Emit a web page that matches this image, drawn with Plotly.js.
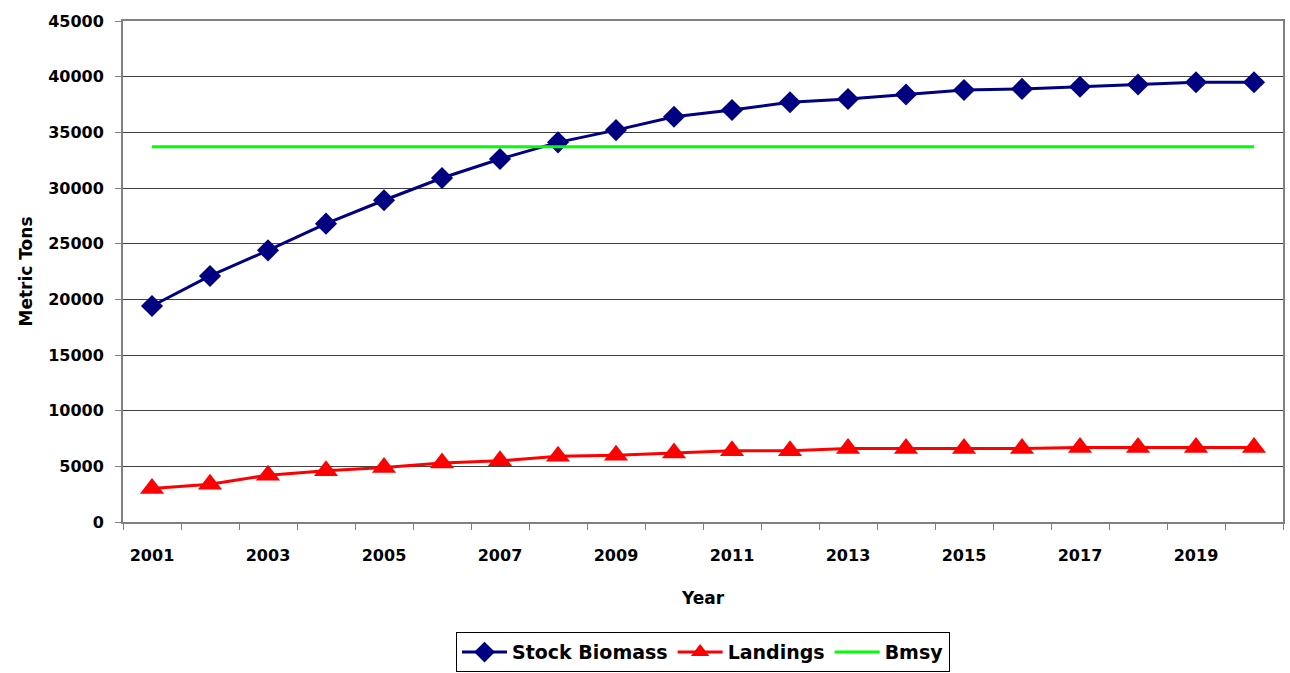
<!DOCTYPE html>
<html>
<head>
<meta charset="utf-8">
<script src="https://cdn.plot.ly/plotly-3.0.1.min.js"></script>
<style>html,body{margin:0;padding:0;background:#fff;}#chart{width:1290px;height:673px;}</style>
</head>
<body>
<div id="chart"></div>
<script>
const years = [2001,2002,2003,2004,2005,2006,2007,2008,2009,2010,2011,2012,2013,2014,2015,2016,2017,2018,2019,2020];
const stockBiomass = [19400,22100,24400,26800,28900,30900,32600,34100,35200,36400,37000,37700,38000,38400,38800,38900,39100,39300,39500,39500];
const landings = [3000,3400,4200,4600,4900,5300,5500,5900,6000,6200,6400,6400,6600,6600,6600,6600,6700,6700,6700,6700];
const bmsy = [33700,33700,33700,33700,33700,33700,33700,33700,33700,33700,33700,33700,33700,33700,33700,33700,33700,33700,33700,33700];
const xTickLabels = [2001,2003,2005,2007,2009,2011,2013,2015,2017,2019];
const yTicks = [0,5000,10000,15000,20000,25000,30000,35000,40000,45000];

const FONT = 'DejaVu Sans, Liberation Sans, Arial, sans-serif';

const traces = [
  {x: years, y: stockBiomass, name: 'Stock Biomass', type: 'scatter', mode: 'lines+markers',
   line: {color: '#000080', width: 3}, marker: {symbol: 'diamond', size: 17, color: '#000080'}},
  {x: years, y: landings, name: 'Landings', type: 'scatter', mode: 'lines+markers',
   line: {color: '#FF0000', width: 3}, marker: {symbol: 'triangle-up', size: 21, color: '#FF0000'}},
  {x: years, y: bmsy, name: 'Bmsy', type: 'scatter', mode: 'lines',
   line: {color: '#00FF00', width: 3}}
];

const layout = {
  width: 1290, height: 673,
  margin: {l: 123, r: 7, t: 21, b: 151, autoexpand: false},
  paper_bgcolor: '#ffffff', plot_bgcolor: '#ffffff',
  font: {family: FONT, size: 16, color: '#000', weight: 'bold'},
  showlegend: true,
  legend: {orientation: 'h', x: 0.5, xanchor: 'center', y: -0.22, yanchor: 'top',
    bordercolor: '#000', borderwidth: 1, font: {family: FONT, size: 19, weight: 'bold'},
    itemwidth: 45, traceorder: 'normal'},
  xaxis: {
    range: [2000.5, 2020.5], tickmode: 'array', tickvals: xTickLabels, ticktext: xTickLabels.map(String),
    ticks: '', showgrid: false, zeroline: false,
    showline: true, linecolor: '#808080', linewidth: 2, mirror: true,
    minor: {tick0: 2000.5, dtick: 1, ticks: 'outside', ticklen: 6, tickcolor: '#808080', showgrid: false},
    tickfont: {family: FONT, size: 16, weight: 'bold'},
    ticklabelstandoff: 18,
    title: {text: 'Year', font: {family: FONT, size: 17, weight: 'bold'}, standoff: 28}
  },
  yaxis: {
    range: [0, 45000], tickmode: 'array', tickvals: yTicks, ticktext: yTicks.map(String),
    ticks: 'outside', ticklen: 6, tickcolor: '#808080',
    showgrid: true, gridcolor: '#404040', gridwidth: 1, zeroline: false,
    showline: true, linecolor: '#808080', linewidth: 2, mirror: true,
    tickfont: {family: FONT, size: 16, weight: 'bold'},
    ticklabelstandoff: 8,
    title: {text: 'Metric Tons', font: {family: FONT, size: 17, weight: 'bold'}, standoff: 11}
  }
};

Plotly.newPlot('chart', traces, layout, {displayModeBar: false, staticPlot: true});
</script>
</body>
</html>
